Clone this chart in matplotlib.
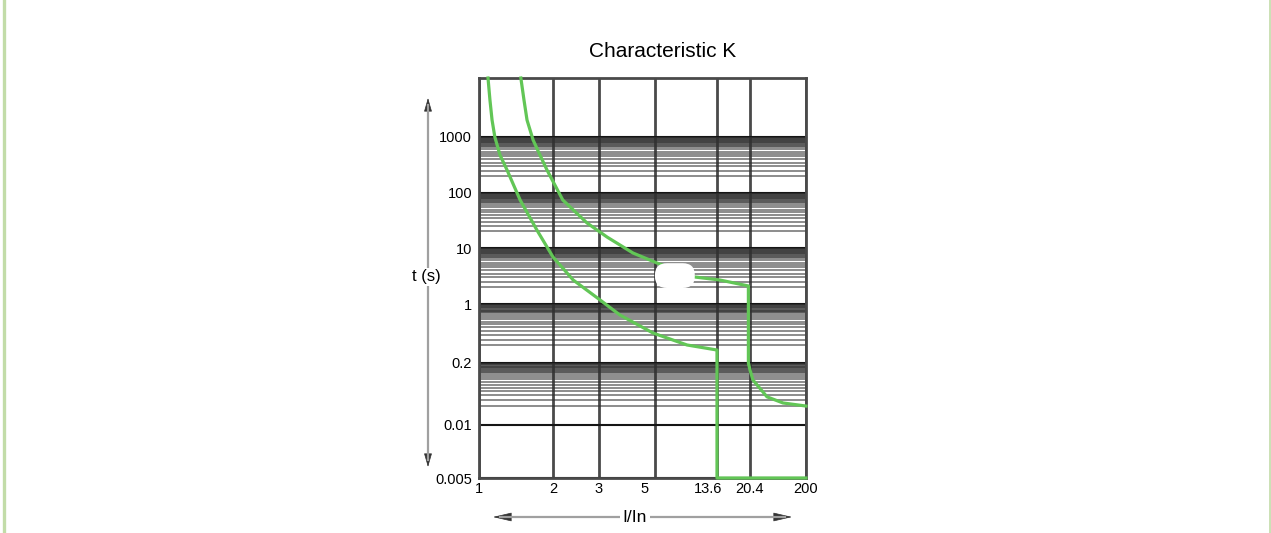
import numpy as np
import matplotlib
matplotlib.use("Agg")
import matplotlib.pyplot as plt
import matplotlib.transforms as mtransforms
from matplotlib.lines import Line2D
from matplotlib.patches import FancyArrowPatch, FancyBboxPatch
from matplotlib.ticker import NullLocator

plt.rcParams["font.family"] = ["Liberation Sans", "DejaVu Sans"]

W, H = 1271, 533

# values printed on the axes
x_ticks = [1, 2, 3, 5, 13.6, 20.4, 200]
y_ticks = [0.005, 0.01, 0.2, 1, 10, 100, 1000]
y_top = 10000

# the paper is not a true log grid: where each printed value sits (pixels of the original)
x_tick_px = [479, 553, 599, 655, 717, 750, 806]
y_tick_px = [478, 425, 363, 304, 248, 193, 137, 78]

# tripping curves, I/In against t (s)
upper_x = [1.48, 1.524, 1.568, 1.66, 1.77, 1.89, 2.18, 2.70, 3.23, 4.09, 5.16, 9.54, 14.1, 20.0,
           20.0, 20.4, 23.0, 40.8, 78.3, 200]
upper_t = [10000, 4236, 1940, 884, 477, 258, 74.6, 28.5, 15.8, 8.14, 5.40, 3.03, 2.68, 2.10,
           0.2, 0.143, 0.088, 0.039, 0.029, 0.025]
lower_x = [1.088, 1.108, 1.13, 1.16, 1.217, 1.30, 1.47, 1.72, 2.0, 2.39, 3.03, 3.63, 4.91, 8.38,
           13.6, 13.6, 200]
lower_t = [10000, 4236, 1940, 1000, 477, 258, 74.6, 21.2, 6.90, 2.68, 1.18, 0.741, 0.453, 0.327,
           0.285, 0.005, 0.005]

# decades of the paper that carry the fine ruling, and the ruling itself
banded = [(1000, 100), (100, 10), (10, 1), (1, 0.2), (0.2, 0.01)]
ruling = [2, 2.5, 3, 3.5, 4, 4.5, 5, 5.5, 6, 6.5, 7, 7.25, 7.5, 7.75, 8, 8.25, 8.5, 8.75,
          9, 9.25, 9.5, 9.75]

green = "#62c656"
grid_dark = "#4a4a4a"

y_scale_vals = y_ticks + [y_top]
lx = np.log10(x_ticks)
ly = np.log10(y_scale_vals)


def fwd_x(v):
    return np.interp(np.log10(np.clip(v, 1e-9, None)), lx, x_tick_px)


def inv_x(p):
    return 10 ** np.interp(p, x_tick_px, lx)


def fwd_y(v):
    return -np.interp(np.log10(np.clip(v, 1e-9, None)), ly, y_tick_px)


def inv_y(p):
    return 10 ** np.interp(p, -np.array(y_tick_px, dtype=float), ly)


fig = plt.figure(figsize=(W / 100, H / 100), dpi=100)
ax = fig.add_axes([479 / W, (H - 478) / H, (806 - 479) / W, (478 - 78) / H])
ax.set_xscale("function", functions=(fwd_x, inv_x))
ax.set_yscale("function", functions=(fwd_y, inv_y))
ax.set_xlim(1, 200)
ax.set_ylim(0.005, y_top)

ax.set_xticks(x_ticks)
ax.set_xticklabels([f"{v:g}" for v in x_ticks], fontsize=10.5)
ax.set_yticks(y_ticks)
ax.set_yticklabels([f"{v:g}" for v in y_ticks], fontsize=10.5)
ax.xaxis.set_minor_locator(NullLocator())

minor = []
for hi, lo in banded:
    for m in ruling:
        f = 1 - np.log10(m)
        minor.append(10 ** (np.log10(hi) - f * (np.log10(hi) - np.log10(lo))))
ax.set_yticks(minor, minor=True)
ax.tick_params(which="both", length=0)
ax.tick_params(axis="y", pad=5)
ax.tick_params(axis="x", pad=3)

ax.grid(which="major", axis="x", color=grid_dark, lw=2.0)
ax.grid(which="major", axis="y", color="#151515", lw=1.5)
ax.grid(which="minor", axis="y", color="#303030", lw=1.1, alpha=0.7)
for s in ax.spines.values():
    s.set_color(grid_dark)
    s.set_linewidth(2.0)

# nudge the two labels that sit left of their rulings on the original
for lab in ax.get_xticklabels():
    dx = {"5": -10, "13.6": -9}.get(lab.get_text(), 0)
    if dx:
        lab.set_transform(lab.get_transform() + mtransforms.ScaledTranslation(dx / 100, 0, fig.dpi_scale_trans))

ax.plot(upper_x, upper_t, color=green, lw=2.3, clip_on=False, zorder=3, solid_joinstyle="round")
ax.plot(lower_x, lower_t, color=green, lw=2.3, clip_on=False, zorder=3, solid_joinstyle="round")

# white blot over the upper curve
ax.add_patch(FancyBboxPatch((0.538, 0.475), 0.122, 0.062, boxstyle="round,pad=0,rounding_size=0.037",
                            mutation_aspect=0.8, transform=ax.transAxes, facecolor="white",
                            edgecolor="none", zorder=4))

fig.text(663 / W, 1 - 57 / H, "Characteristic K", ha="center", va="baseline", fontsize=15)


def px(x, y):
    return (x / W, 1 - y / H)


# axis arrows
fig.add_artist(Line2D([428 / W, 428 / W], [1 - 105 / H, 1 - 460 / H], transform=fig.transFigure,
                      color="#a0a0a0", lw=1.6))
fig.add_artist(Line2D([500 / W, 785 / W], [1 - 517 / H, 1 - 517 / H], transform=fig.transFigure,
                      color="#a0a0a0", lw=1.6))
for a, b, st in [((428, 115), (428, 98), "-|>,head_length=0.86,head_width=0.25"),
                 ((428, 450), (428, 467), "-|>,head_length=0.86,head_width=0.25"),
                 ((510, 517), (493, 517), "-|>,head_length=1.2,head_width=0.28"),
                 ((775, 517), (792, 517), "-|>,head_length=1.2,head_width=0.28")]:
    fig.add_artist(FancyArrowPatch(px(*a), px(*b), transform=fig.transFigure, arrowstyle=st,
                                   mutation_scale=10, color="#333333", lw=0.5,
                                   shrinkA=0, shrinkB=0))

fig.text(426 / W, 1 - 277 / H, "t (s)", ha="center", va="center", fontsize=12,
         bbox=dict(facecolor="white", edgecolor="none", pad=1))
fig.text(635 / W, 1 - 518 / H, "I/In", ha="center", va="center", fontsize=12.5,
         bbox=dict(facecolor="white", edgecolor="none", pad=2))

# pale green page border
fig.add_artist(Line2D([3.5 / W, 3.5 / W], [0, 1], transform=fig.transFigure, color="#c2dca8", lw=2.4))
fig.add_artist(Line2D([1269.5 / W, 1269.5 / W], [0, 1], transform=fig.transFigure, color="#c2dca8", lw=1.2))

fig.savefig("out.png", dpi=100)
